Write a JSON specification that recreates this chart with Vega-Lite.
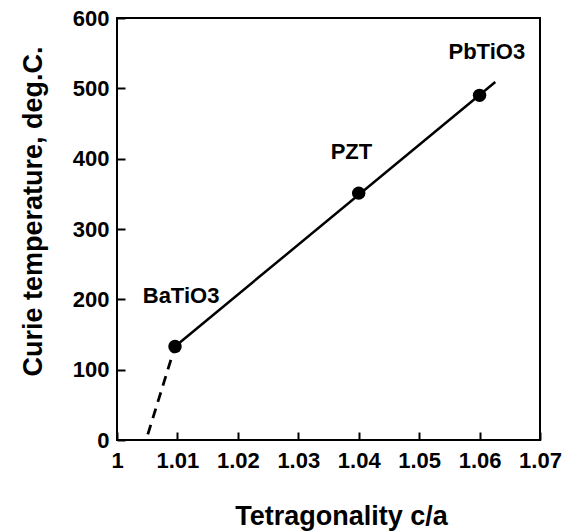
{
  "$schema": "https://vega.github.io/schema/vega-lite/v6.json",
  "width": 423,
  "height": 422,
  "autosize": {"type": "none"},
  "padding": {"left": 117, "top": 18, "right": 26, "bottom": 91},
  "background": "white",
  "config": {
    "view": {"stroke": "black", "strokeWidth": 2},
    "font": "Liberation Sans",
    "axis": {
      "domain": false,
      "grid": false,
      "labelFont": "Liberation Sans",
      "labelFontSize": 22,
      "labelFontWeight": "bold",
      "labelColor": "black",
      "titleFont": "Liberation Sans",
      "titleFontSize": 27,
      "titleFontWeight": "bold",
      "titleColor": "black"
    }
  },
  "datasets": {
    "points": [
      {"ca": 1.0096, "tc": 133, "name": "BaTiO3"},
      {"ca": 1.040, "tc": 351, "name": "PZT"},
      {"ca": 1.060, "tc": 490, "name": "PbTiO3"}
    ],
    "fit": [
      {"ca": 1.0096, "tc": 133},
      {"ca": 1.0626, "tc": 509}
    ],
    "extrap": [
      {"ca": 1.0096, "tc": 133},
      {"ca": 1.0051, "tc": 8}
    ],
    "labels": [
      {"ca": 1.0106, "tc": 205, "name": "BaTiO3"},
      {"ca": 1.0388, "tc": 410, "name": "PZT"},
      {"ca": 1.0612, "tc": 552, "name": "PbTiO3"}
    ]
  },
  "layer": [
    {
      "data": {"name": "fit"},
      "mark": {"type": "line", "color": "black", "strokeWidth": 2.5},
      "encoding": {
        "x": {
          "field": "ca", "type": "quantitative",
          "scale": {"domain": [1, 1.07], "nice": false, "zero": false},
          "axis": {
            "orient": "bottom",
            "offset": -8,
            "title": "Tetragonality c/a",
            "values": [1, 1.01, 1.02, 1.03, 1.04, 1.05, 1.06, 1.07],
            "format": ".2~f",
            "ticks": true,
            "tickSize": 8,
            "tickWidth": 2,
            "tickColor": "black",
            "labelPadding": 10,
            "labelFlush": false,
            "labelOverlap": false,
            "titleAnchor": null,
            "titleX": 224,
            "titleY": 92,
            "titleBaseline": "alphabetic"
          }
        },
        "y": {
          "field": "tc", "type": "quantitative",
          "scale": {"domain": [0, 600], "nice": false},
          "axis": {
            "orient": "left",
            "offset": -8,
            "title": "Curie temperature, deg.C.",
            "values": [0, 100, 200, 300, 400, 500, 600],
            "ticks": true,
            "tickSize": 8,
            "tickWidth": 2,
            "tickColor": "black",
            "labelPadding": 8,
            "labelOverlap": false,
            "labelFlush": false,
            "titleAnchor": null,
            "titleX": -84,
            "titleY": 193,
            "titleBaseline": "alphabetic"
          }
        }
      }
    },
    {
      "data": {"name": "extrap"},
      "mark": {"type": "line", "color": "black", "strokeWidth": 2.8, "strokeDash": [10, 7]},
      "encoding": {
        "x": {"field": "ca", "type": "quantitative"},
        "y": {"field": "tc", "type": "quantitative"}
      }
    },
    {
      "data": {"name": "points"},
      "mark": {"type": "point", "filled": true, "color": "black", "size": 180, "opacity": 1},
      "encoding": {
        "x": {"field": "ca", "type": "quantitative"},
        "y": {"field": "tc", "type": "quantitative"}
      }
    },
    {
      "data": {"name": "labels"},
      "mark": {"type": "text", "font": "Liberation Sans", "fontSize": 22, "fontWeight": "bold", "color": "black", "align": "center", "baseline": "middle"},
      "encoding": {
        "x": {"field": "ca", "type": "quantitative"},
        "y": {"field": "tc", "type": "quantitative"},
        "text": {"field": "name"}
      }
    }
  ]
}
